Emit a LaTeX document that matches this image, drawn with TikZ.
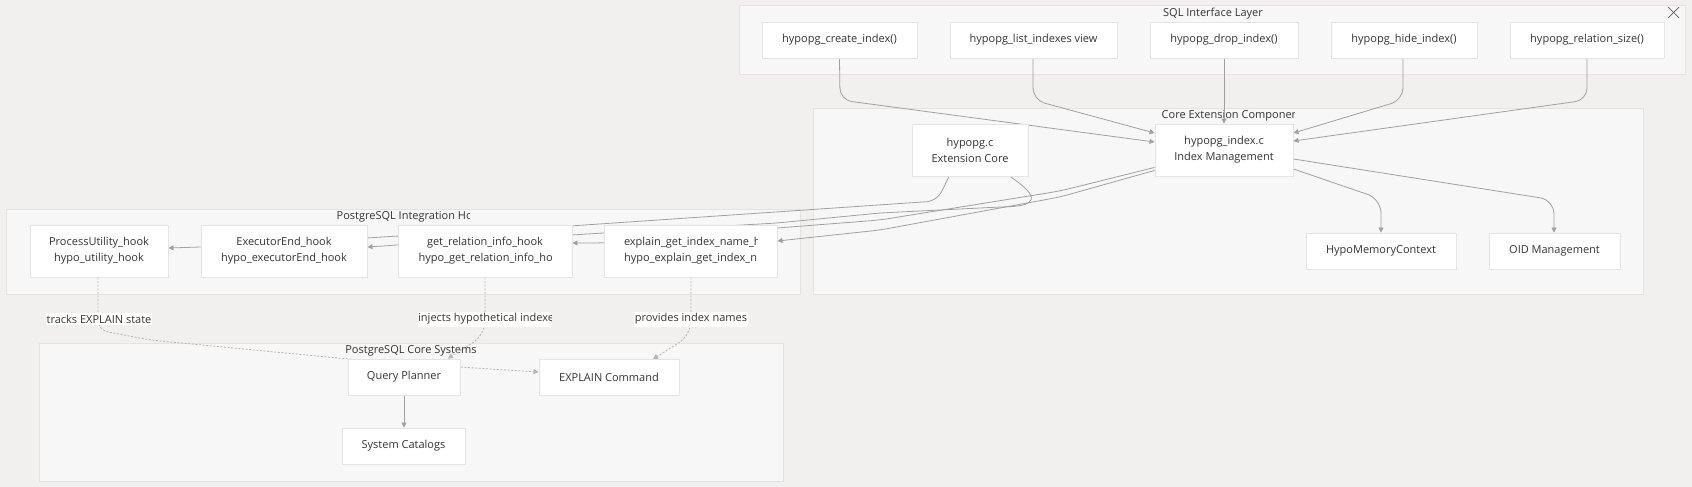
\documentclass[tikz,border=0pt]{standalone}
\usepackage{fontspec}
\setmainfont{Open Sans}
\usetikzlibrary{arrows.meta,calc}
\definecolor{bgc}{HTML}{F1F0EE}
\definecolor{clc}{HTML}{F7F7F7}
\definecolor{clb}{HTML}{E3E3E3}
\definecolor{ndb}{HTML}{E4E4E4}
\definecolor{edc}{HTML}{A0A0A0}
\definecolor{dotc}{HTML}{B4B4B4}
\definecolor{txt}{HTML}{333333}
\pgfdeclarelayer{bg}
\pgfdeclarelayer{edges}
\pgfsetlayers{bg,edges,main}
\tikzset{
  cluster/.style={draw=clb, fill=clc, line width=0.9pt, inner sep=0pt, anchor=north west},
  box/.style={draw=ndb, fill=white, line width=0.9pt, inner sep=0pt, align=center,
    font=\fontsize{11}{16}\selectfont, text=txt},
  ttl/.style={font=\fontsize{11}{14}\selectfont, text=txt, inner sep=0pt},
  cliptxt/.style={inner sep=0pt, align=center, text width=133pt,
    font=\fontsize{11}{16}\selectfont, text=txt},
  edge/.style={draw=edc, line width=0.8pt, -{Triangle[length=5pt,width=5pt]}},
  dotedge/.style={draw=dotc, line width=0.8pt, dash pattern=on 2pt off 1.6pt,
    -{Triangle[length=5pt,width=5pt]}},
  lbl/.style={fill=white, inner xsep=0.5pt, inner ysep=2pt,
    font=\fontsize{11}{14}\selectfont, text=txt},
}
\begin{document}
\begin{tikzpicture}[x=1pt,y=-1pt]
\useasboundingbox (0,0) rectangle (1692,487);
\begin{pgfonlayer}{bg}
  \fill[bgc] (0,0) rectangle (1692,487);
  % clusters
  \node[cluster, minimum width=946pt, minimum height=69pt] (sql) at (739,5) {};
  \node[cluster, minimum width=830pt, minimum height=186pt] (core) at (813,108) {};
  \node[cluster, minimum width=794pt, minimum height=85pt] (hooks) at (6,209) {};
  \node[cluster, minimum width=744pt, minimum height=138pt] (pgcore) at (39,343) {};
  % titles
  \node[ttl] (sqlt) at (1213,14) {SQL Interface Layer};
  \node[ttl, fill=clc, minimum width=133pt, minimum height=14pt, path picture={
      \node[ttl, anchor=west] at (path picture bounding box.west) {Core Extension Componen};}]
      (coret) at (1228,116) {};
  \node[ttl, fill=clc, minimum width=133pt, minimum height=14pt, path picture={
      \node[ttl, anchor=west] at (path picture bounding box.west) {PostgreSQL Integration Ho};}]
      (hookst) at (403,217) {};
  \node[ttl] (pgcoret) at (411,351) {PostgreSQL Core Systems};
\end{pgfonlayer}
% close icon
\draw[draw=txt!80, line width=0.7pt] (1668,7) coordinate (xa) -- (1679,18) coordinate (xb);
\draw[draw=txt!80, line width=0.7pt] (1679,7) coordinate (xc) -- (1668,18) coordinate (xd);
% SQL interface nodes
\node[box, minimum width=155pt, minimum height=36pt] (create) at (839.5,40) {hypopg\_create\_index()};
\node[box, minimum width=167pt, minimum height=36pt] (list) at (1033.5,40) {hypopg\_list\_indexes view};
\node[box, minimum width=148pt, minimum height=36pt] (drop) at (1224,40) {hypopg\_drop\_index()};
\node[box, minimum width=146pt, minimum height=36pt] (hide) at (1404,40) {hypopg\_hide\_index()};
\node[box, minimum width=154pt, minimum height=36pt] (size) at (1587,40) {hypopg\_relation\_size()};
% core nodes
\node[box, minimum width=116pt, minimum height=52pt] (hc) at (970,150) {hypopg.c\\Extension Core};
\node[box, minimum width=138pt, minimum height=52pt] (index) at (1224,150) {hypopg\_index.c\\Index Management};
\node[box, minimum width=150pt, minimum height=36pt] (mem) at (1381,251) {HypoMemoryContext};
\node[box, minimum width=131pt, minimum height=36pt] (oid) at (1554.5,251) {OID Management};
% hook nodes
\node[box, minimum width=138pt, minimum height=52pt] (util) at (99,251) {ProcessUtility\_hook\\hypo\_utility\_hook};
\node[box, minimum width=166pt, minimum height=52pt] (exec) at (284,251) {ExecutorEnd\_hook\\hypo\_executorEnd\_hook};
\node[box, minimum width=174pt, minimum height=52pt, path picture={
    \clip ($(path picture bounding box.center)+(-66.5,-24)$) rectangle +(133,48);
    \node[cliptxt] at (path picture bounding box.center)
      {\mbox{get\_relation\_info\_hook}\\\mbox{hypo\_get\_relation\_info\_ho}};}]
    (rel) at (485,251) {};
\node[box, minimum width=173pt, minimum height=52pt, path picture={
    \clip ($(path picture bounding box.center)+(-66.5,-24)$) rectangle +(133,48);
    \node[cliptxt] at (path picture bounding box.center)
      {\mbox{explain\_get\_index\_name\_h}\\\mbox{hypo\_explain\_get\_index\_n}};}]
    (expl) at (690.5,251) {};
% postgres core nodes
\node[box, minimum width=112pt, minimum height=36pt] (qp) at (404,377) {Query Planner};
\node[box, minimum width=140pt, minimum height=36pt] (ec) at (609,377.5) {EXPLAIN Command};
\node[box, minimum width=123pt, minimum height=36pt] (sc) at (403.5,446) {System Catalogs};
% edge labels
\node[lbl] (l1) at (99,319) {tracks EXPLAIN state};
\node[lbl, minimum width=133pt, minimum height=15pt, inner sep=0pt, path picture={
    \node[lbl, fill=none, inner sep=0pt, anchor=west] at (path picture bounding box.west) {injects hypothetical indexe};}]
    (l2) at (484.5,319) {};
\node[lbl] (l3) at (691,319) {provides index names};

\begin{pgfonlayer}{edges}
  % SQL -> index management
  \draw[edge, rounded corners=12pt] (create.south) -- (840,100) -- ($(index.west)+(0,-8)$);
  \draw[edge, rounded corners=12pt] (list.south -| 1033,0) -- (1033,100) -- ($(index.west)+(0,-17)$);
  \draw[edge] (drop.south) -- (index.north);
  \draw[edge, rounded corners=12pt] (hide.south -| 1403,0) -- (1403,100) -- ($(index.east)+(0,-17)$);
  \draw[edge, rounded corners=12pt] (size.south) -- (1587,100) -- ($(index.east)+(0,-9)$);
  % index -> memory / oid
  \draw[edge, rounded corners=14pt] ($(index.east)+(0,19)$) -- (1381,199) -- (mem.north);
  \draw[edge, rounded corners=14pt] ($(index.east)+(0,9)$) -- (1554,200) -- (oid.north -| 1554,0);
  % hypopg.c -> hooks
  \draw[edge, rounded corners=10pt] ($(hc.south)+(-21,0)$) -- (937,201) -- (570,226) -- (398,245)
     -- ($(exec.east)+(0,-4)$);
  \draw[edge, rounded corners=6pt] ($(hc.south)+(40,0)$) .. controls (1042,198) and (1036,206) .. (1000,207)
     -- (880,213) -- (777,223) -- (603,233) -- (572,235) -- (398,236) -- (367,238) -- (201,247)
     -- ($(util.east)+(0,-3)$);
  % index -> hooks
  \draw[edge, rounded corners=10pt] ($(index.south west)+(0,-9)$) -- (1060,191) -- (880,220)
     -- (777,228) -- (603,243) -- ($(rel.east)+(0,-8)$);
  \draw[edge, rounded corners=10pt] ($(index.south west)+(0,-6)$) -- (1060,197) -- (880,230)
     -- ($(expl.east)+(0,-10)$);
  % hooks -> postgres core (dotted)
  \draw[dotedge, rounded corners=10pt] (util.south -| 98,0) -- (98,330) -- (150,340) -- (348,359)
     -- (459,367) -- ($(ec.west)+(0,-5.5)$);
  \draw[dotedge, rounded corners=14pt] (rel.south) -- (485,335) -- ($(qp.north)+(44,0)$);
  \draw[dotedge, rounded corners=14pt] (expl.south -| 691,0) -- (691,335) -- ($(ec.north)+(44,0)$);
  % planner -> catalogs
  \draw[edge] (qp.south) -- (sc.north -| qp.south);
\end{pgfonlayer}
\end{tikzpicture}
\end{document}
